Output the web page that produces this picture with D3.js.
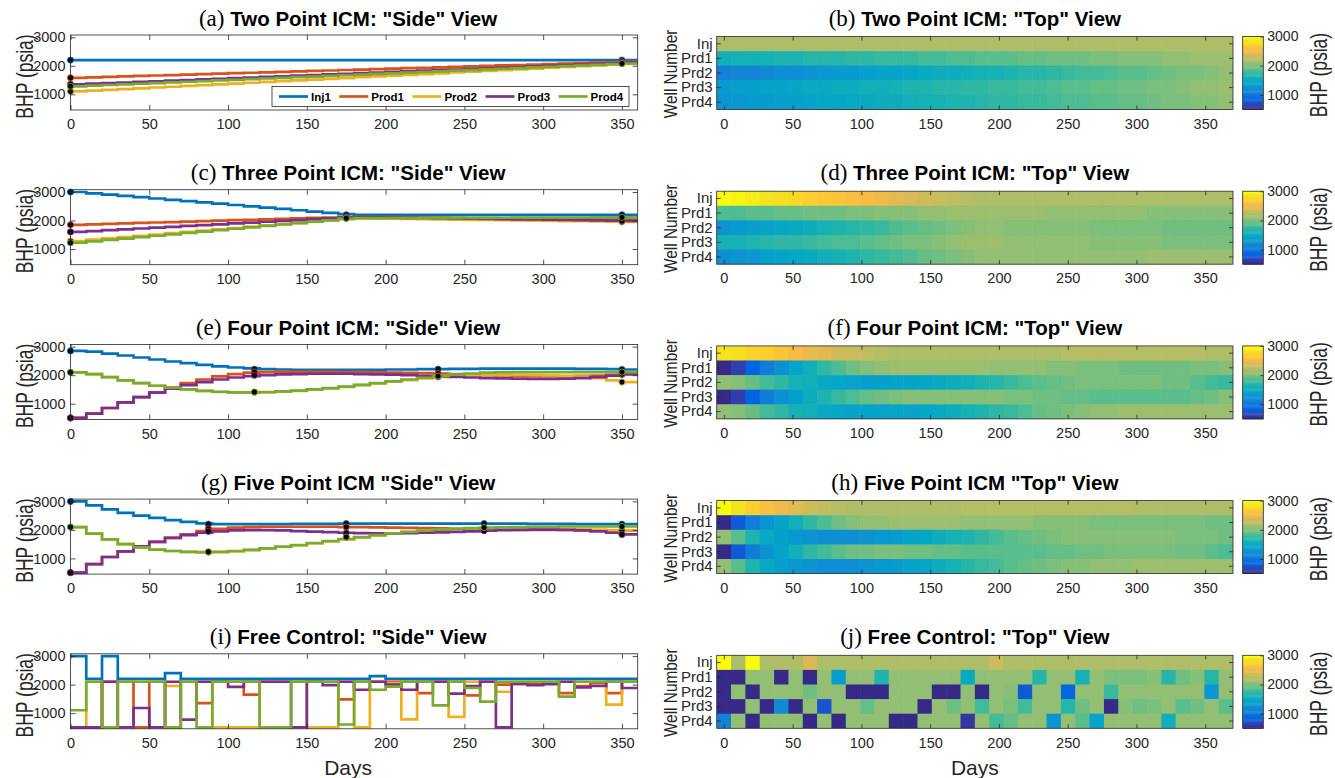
<!DOCTYPE html>
<html>
<head>
<meta charset="utf-8">
<script src="https://cdn.jsdelivr.net/npm/d3@7"></script>
<style>
  body { margin: 0; background: #fff; }
  svg { display: block; }
</style>
</head>
<body>
<svg id="fig" width="1335" height="778"></svg>
<script>
// ---------------------------------------------------------------------------
// Data
// ---------------------------------------------------------------------------
const wells = ["Inj1", "Prod1", "Prod2", "Prod3", "Prod4"];
const rowLabels = ["Inj", "Prd1", "Prd2", "Prd3", "Prd4"];
const wellColors = ["#0072BD", "#D95319", "#EDB120", "#7E2F8E", "#77AC30"];

// start day of each 10-day control step
const stepStart = [0, 10, 20, 30, 40, 50, 60, 70, 80, 90, 100, 110, 120, 130, 140, 150, 160, 170,
                   180, 190, 200, 210, 220, 230, 240, 250, 260, 270, 280, 290, 300, 310, 320, 330, 340, 350];
const dayTicks = [0, 50, 100, 150, 200, 250, 300, 350];
const bhpTicks = [1000, 2000, 3000];

// control-point days of the interpolated control methods
const ctrlTwoPoint = [0, 350];
const ctrlThreePoint = [0, 175, 350];
const ctrlFourPoint = [0, 116.7, 233.3, 350];
const ctrlFivePoint = [0, 87.5, 175, 262.5, 350];

// BHP (psia) per step, rows: Inj1, Prod1, Prod2, Prod3, Prod4
const bhpTwoPoint = [
  [2200,2200,2200,2200,2200,2200,2200,2200,2200,2200,2200,2200,2200,2200,2200,2200,2200,2200,2200,2200,2200,2200,2200,2200,2200,2200,2200,2200,2200,2200,2200,2200,2200,2200,2200,2200],
  [1580,1596,1612,1628,1644,1660,1676,1692,1708,1724,1740,1756,1772,1788,1804,1820,1836,1852,1868,1884,1900,1916,1932,1948,1964,1980,1996,2012,2028,2044,2060,2076,2092,2108,2124,2140],
  [1100,1128,1155,1183,1211,1239,1266,1294,1322,1349,1377,1405,1433,1460,1488,1516,1543,1571,1599,1627,1654,1682,1710,1737,1765,1793,1821,1848,1876,1904,1931,1959,1987,2015,2042,2070],
  [1350,1372,1393,1415,1437,1459,1481,1502,1524,1546,1567,1589,1611,1633,1654,1676,1698,1719,1741,1763,1784,1806,1828,1850,1871,1893,1914,1936,1958,1980,2001,2023,2045,2066,2088,2110],
  [1280,1303,1326,1349,1371,1394,1417,1440,1463,1486,1509,1531,1554,1577,1600,1623,1646,1669,1691,1714,1737,1760,1783,1806,1829,1851,1874,1897,1920,1943,1966,1989,2011,2034,2057,2080]
];

const bhpThreePoint = [
  [3000,2954,2909,2863,2817,2771,2726,2680,2634,2589,2543,2497,2451,2406,2360,2314,2269,2223,2200,2200,2200,2200,2200,2200,2200,2200,2200,2200,2200,2200,2200,2200,2200,2200,2200,2200],
  [1850,1866,1882,1898,1914,1930,1946,1962,1978,1994,2010,2026,2042,2058,2074,2090,2106,2122,2127,2121,2116,2110,2104,2099,2093,2087,2081,2076,2070,2064,2059,2053,2047,2041,2036,2030],
  [1280,1326,1371,1417,1463,1509,1554,1600,1646,1691,1737,1783,1829,1874,1920,1966,2011,2057,2076,2069,2061,2054,2047,2039,2032,2024,2017,2010,2002,1995,1987,1980,1973,1965,1958,1950],
  [1600,1630,1659,1689,1719,1749,1778,1808,1838,1867,1897,1927,1957,1986,2016,2046,2075,2105,2116,2109,2101,2094,2087,2079,2072,2064,2057,2050,2042,2035,2027,2020,2013,2005,1998,1990],
  [1220,1269,1318,1367,1417,1466,1515,1564,1613,1662,1711,1761,1810,1859,1908,1957,2006,2055,2081,2083,2085,2087,2088,2090,2092,2094,2095,2097,2099,2101,2102,2104,2106,2107,2109,2110]
];

const bhpFourPoint = [
  [2850,2830,2760,2690,2620,2550,2480,2420,2360,2310,2270,2240,2210,2200,2190,2190,2190,2190,2190,2190,2200,2200,2210,2210,2220,2220,2230,2230,2230,2230,2230,2230,2220,2220,2210,2200],
  [500,650,850,1050,1230,1400,1570,1720,1850,1960,2040,2090,2110,2120,2120,2120,2120,2110,2110,2100,2090,2080,2070,2060,2040,2020,2000,1990,1980,1970,1970,1970,1980,1990,2010,2030],
  [2100,2040,1930,1820,1720,1630,1560,1500,1450,1410,1390,1390,1400,1420,1450,1490,1540,1590,1650,1710,1770,1830,1890,1940,1980,2000,2010,2010,2010,2000,1990,1970,1950,1900,1820,1760],
  [500,650,850,1050,1230,1390,1530,1650,1760,1850,1920,1970,2000,2030,2040,2050,2050,2050,2040,2030,2020,2000,1980,1960,1940,1920,1900,1890,1880,1870,1870,1880,1900,1930,1980,2040],
  [2100,2040,1930,1820,1720,1630,1560,1500,1450,1420,1400,1400,1410,1430,1460,1500,1550,1600,1660,1720,1780,1850,1910,1970,2020,2060,2090,2100,2110,2110,2110,2110,2110,2110,2110,2110]
];

const bhpFivePoint = [
  [3000,2860,2720,2600,2500,2420,2340,2280,2230,2200,2200,2200,2200,2200,2210,2210,2210,2220,2220,2220,2220,2220,2220,2220,2220,2220,2220,2220,2220,2210,2210,2210,2200,2200,2200,2200],
  [500,800,1050,1250,1420,1580,1720,1840,1960,2040,2080,2100,2110,2110,2110,2110,2110,2100,2100,2090,2080,2070,2060,2050,2040,2030,2020,2010,2000,2000,2000,2000,1990,1990,1980,1970],
  [2100,1870,1670,1500,1390,1310,1260,1230,1210,1220,1250,1290,1340,1400,1460,1530,1600,1670,1740,1810,1870,1920,1960,2000,2030,2050,2060,2060,2060,2050,2040,2030,2020,2000,1990,1980],
  [500,800,1050,1250,1420,1580,1720,1820,1900,1950,1980,1990,1990,1980,1960,1940,1920,1900,1890,1880,1880,1890,1900,1910,1930,1950,1970,1990,2000,2010,2010,2000,1980,1950,1900,1840],
  [2100,1870,1670,1500,1390,1310,1260,1230,1220,1230,1260,1300,1350,1410,1470,1540,1610,1680,1750,1820,1880,1930,1970,2010,2040,2060,2080,2090,2100,2110,2110,2120,2120,2120,2120,2120]
];

const bhpFreeControl = [
  [3000,2200,3000,2200,2200,2200,2400,2200,2200,2200,2200,2200,2200,2200,2200,2200,2200,2200,2200,2300,2200,2200,2200,2200,2200,2200,2200,2200,2200,2200,2200,2200,2200,2200,2200,2200],
  [500,500,2100,2100,500,2100,500,2100,1350,2100,2100,1650,2100,2100,2100,2100,2100,1480,2100,2100,2100,2100,1700,2100,2100,1620,2100,2000,2020,2020,2030,1700,1950,2050,1700,2100],
  [500,2100,500,2100,2100,2100,1950,2100,2100,500,500,500,2100,2100,2100,500,500,2100,500,2100,2050,780,2100,2100,870,2100,2100,1750,2100,2100,2100,2100,2100,2100,1300,2100],
  [500,500,2100,500,1180,500,2100,770,2100,2100,1920,2100,2100,2100,500,2100,1980,2100,1820,2100,2000,1820,2100,2100,1680,1950,2100,500,2030,1980,2020,2100,1900,1950,2100,1880],
  [1100,2100,500,2100,2100,2100,500,2100,500,2100,2100,2100,500,500,2100,2100,2100,600,2100,1820,1930,2100,2100,1270,2100,1880,1400,2100,2100,2100,2100,1580,2100,2100,2100,2100]
];

const panels = [
  { key: "a", tag: "(a)", sideTitle: 'Two Point ICM: "Side" View',   topTag: "(b)", topTitle: 'Two Point ICM: "Top" View',   data: bhpTwoPoint,    ctrl: ctrlTwoPoint,   legend: true },
  { key: "c", tag: "(c)", sideTitle: 'Three Point ICM: "Side" View', topTag: "(d)", topTitle: 'Three Point ICM: "Top" View', data: bhpThreePoint,  ctrl: ctrlThreePoint },
  { key: "e", tag: "(e)", sideTitle: 'Four Point ICM: "Side" View',  topTag: "(f)", topTitle: 'Four Point ICM: "Top" View',  data: bhpFourPoint,   ctrl: ctrlFourPoint },
  { key: "g", tag: "(g)", sideTitle: 'Five Point ICM "Side" View',   topTag: "(h)", topTitle: 'Five Point ICM "Top" View',   data: bhpFivePoint,   ctrl: ctrlFivePoint },
  { key: "i", tag: "(i)", sideTitle: 'Free Control: "Side" View',    topTag: "(j)", topTitle: 'Free Control: "Top" View',    data: bhpFreeControl, ctrl: null }
];

// ---------------------------------------------------------------------------
// Parula colour map (MATLAB default), 64 discrete levels
// ---------------------------------------------------------------------------
const parulaStops = [
  [0.2081,0.1663,0.5292],[0.1959,0.2645,0.7279],[0.0117,0.3875,0.8820],[0.0498,0.4586,0.8641],
  [0.0793,0.5200,0.8312],[0.0343,0.5966,0.8199],[0.0228,0.6535,0.7768],[0.0843,0.6928,0.7062],
  [0.2178,0.7250,0.6193],[0.3953,0.7459,0.5244],[0.5709,0.7485,0.4494],[0.7184,0.7411,0.3905],
  [0.8507,0.7299,0.3360],[0.9739,0.7314,0.2666],[0.9880,0.8066,0.1794],[0.9589,0.8949,0.1132],
  [0.9763,0.9831,0.0538]
];
const parulaPos = parulaStops.map((_, i) => Math.min(1, i * 4 / 63));
const parulaInterp = d3.scaleLinear()
  .domain(parulaPos)
  .range(parulaStops.map(c => d3.rgb(c[0] * 255, c[1] * 255, c[2] * 255)))
  .interpolate(d3.interpolateRgb)
  .clamp(true);
const cbarDomain = [500, 3000];
function parulaLevel(j) { return parulaInterp(j / 63); }
function parula(v) {
  const t = (v - cbarDomain[0]) / (cbarDomain[1] - cbarDomain[0]);
  const j = Math.max(0, Math.min(63, Math.floor(t * 64)));
  return parulaLevel(j);
}

// ---------------------------------------------------------------------------
// Layout
// ---------------------------------------------------------------------------
const SANS = "'Liberation Sans', Arial, Helvetica, sans-serif";
const SERIF = "'Liberation Serif', 'Times New Roman', serif";
const TXT = "#262626";
const AX = "#262626";
const intFmt = d3.format("d");

const sideX0 = 70.5, sideX1 = 637.7, sideH = 75, sideTop0 = 35;
const mapX0 = 716.7, mapX1 = 1233, mapH = 73, mapTop0 = 36.5;
const cbX0 = 1242.7, cbX1 = 1263.3;
const rowStep = 154.7;

const dayDomain = [0, 360];
const bhpDomain = [450, 3080];
const cellDays = 365 / 35;
const mapDomain = [-cellDays / 2, 365 + cellDays / 2];

const svg = d3.select("#fig");

function styleAxis(sel, size) {
  sel.attr("font-family", SANS).attr("font-size", size).attr("color", TXT);
  sel.select(".domain").remove();
  sel.selectAll(".tick line").attr("stroke", AX).attr("stroke-width", 0.8);
  return sel;
}

function frame(g, x0, x1, y0, y1) {
  g.append("rect")
    .attr("x", x0).attr("y", y0).attr("width", x1 - x0).attr("height", y1 - y0)
    .attr("fill", "none").attr("stroke", AX).attr("stroke-width", 0.8);
}

function title(cx, yBase, tag, text) {
  const t = svg.append("text")
    .attr("x", cx).attr("y", yBase)
    .attr("text-anchor", "middle").attr("fill", "#000");
  t.append("tspan").attr("font-family", SERIF).attr("font-size", 23).text(tag + " ");
  t.append("tspan").attr("font-family", SANS).attr("font-weight", "bold").attr("font-size", 20.5).text(text);
}

// rotated axis title, squeezed along its reading direction
function vLabel(x, cy, text, size, squeeze) {
  svg.append("text")
    .attr("transform", `translate(${x},${cy}) rotate(-90) scale(${squeeze},1)`)
    .attr("text-anchor", "middle")
    .attr("font-family", SANS).attr("font-size", size).attr("fill", TXT)
    .text(text);
}

// ---------------------------------------------------------------------------
// "Side" view: step lines of BHP against days
// ---------------------------------------------------------------------------
function drawSide(p, k) {
  const top = sideTop0 + k * rowStep;
  const bottom = top + sideH;
  const x = d3.scaleLinear().domain(dayDomain).range([sideX0, sideX1]);
  const y = d3.scaleLinear().domain(bhpDomain).range([bottom, top]);
  const g = svg.append("g");

  const cid = "clip-side-" + p.key;
  g.append("clipPath").attr("id", cid).append("rect")
    .attr("x", sideX0).attr("y", top).attr("width", sideX1 - sideX0).attr("height", sideH);

  const line = d3.line().x(d => x(d[0])).y(d => y(d[1])).curve(d3.curveStepAfter);
  const plot = g.append("g").attr("clip-path", `url(#${cid})`);
  p.data.forEach((series, w) => {
    const pts = stepStart.map((t, i) => [t, series[i]]);
    pts.push([dayDomain[1], series[series.length - 1]]);
    plot.append("path")
      .attr("d", line(pts))
      .attr("fill", "none")
      .attr("stroke", wellColors[w])
      .attr("stroke-width", 2.7);
  });

  // control-point markers
  if (p.ctrl) {
    const dots = g.append("g");
    p.data.forEach((series, w) => {
      p.ctrl.forEach(t => {
        const i = Math.min(series.length - 1, Math.round(t / 10));
        dots.append("circle")
          .attr("cx", x(t)).attr("cy", y(series[i])).attr("r", 3.1)
          .attr("fill", "#000").attr("stroke", wellColors[w]).attr("stroke-width", 0.9);
      });
    });
  }

  // axes
  styleAxis(g.append("g").attr("transform", `translate(0,${bottom})`)
    .call(d3.axisBottom(x).tickValues(dayTicks).tickFormat(intFmt).tickSizeInner(-5).tickSizeOuter(0).tickPadding(9)), 14.5);
  styleAxis(g.append("g").attr("transform", `translate(0,${top})`)
    .call(d3.axisTop(x).tickValues(dayTicks).tickSizeInner(-5).tickSizeOuter(0).tickFormat("")), 14);
  styleAxis(g.append("g").attr("transform", `translate(${sideX0},0)`)
    .call(d3.axisLeft(y).tickValues(bhpTicks).tickFormat(intFmt).tickSizeInner(-5).tickSizeOuter(0).tickPadding(5)), 14.5);
  styleAxis(g.append("g").attr("transform", `translate(${sideX1},0)`)
    .call(d3.axisRight(y).tickValues(bhpTicks).tickSizeInner(-5).tickSizeOuter(0).tickFormat("")), 14);
  frame(g, sideX0, sideX1, top, bottom);

  // legend
  if (p.legend) {
    const lgW = 357, lgH = 20;
    const lgX = sideX1 - 8.7 - lgW, lgY = bottom - 3.5 - lgH;
    const lg = g.append("g");
    lg.append("rect").attr("x", lgX).attr("y", lgY).attr("width", lgW).attr("height", lgH)
      .attr("fill", "#fff").attr("stroke", AX).attr("stroke-width", 0.8);
    let cx = lgX + 7;
    wells.forEach((name, w) => {
      const cy = lgY + lgH / 2;
      lg.append("line").attr("x1", cx).attr("x2", cx + 29).attr("y1", cy).attr("y2", cy)
        .attr("stroke", wellColors[w]).attr("stroke-width", 2.7);
      const t = lg.append("text").attr("x", cx + 32).attr("y", cy + 4.2)
        .attr("font-family", SANS).attr("font-weight", "bold").attr("font-size", 11.5)
        .attr("fill", "#000").text(name);
      cx += 32 + t.node().getComputedTextLength() + 8.5;
    });
  }

  title((sideX0 + sideX1) / 2 - 6, top - 9.5, p.tag, p.sideTitle);
  vLabel(33, top + sideH / 2 + 4, "BHP (psia)", 24, 0.73);
}

// ---------------------------------------------------------------------------
// "Top" view: heat map of well against days, plus colour bar
// ---------------------------------------------------------------------------
function drawMap(p, k) {
  const top = mapTop0 + k * rowStep;
  const bottom = top + mapH;
  const x = d3.scaleLinear().domain(mapDomain).range([mapX0, mapX1]);
  const y = d3.scaleBand().domain(rowLabels).range([top, bottom]);
  const cellCentre = d3.scaleLinear().domain([0, stepStart.length - 1]).range([0, 365]);
  const g = svg.append("g");

  const cid = "clip-map-" + p.key;
  g.append("clipPath").attr("id", cid).append("rect")
    .attr("x", mapX0).attr("y", top).attr("width", mapX1 - mapX0).attr("height", mapH);
  const cells = g.append("g").attr("clip-path", `url(#${cid})`);
  p.data.forEach((series, w) => {
    series.forEach((v, i) => {
      const c = cellCentre(i);
      const xa = x(c - cellDays / 2), xb = x(c + cellDays / 2);
      cells.append("rect")
        .attr("x", xa).attr("y", y(rowLabels[w]))
        .attr("width", xb - xa + 0.6).attr("height", y.bandwidth() + 0.6)
        .attr("fill", parula(v));
    });
  });

  styleAxis(g.append("g").attr("transform", `translate(0,${bottom})`)
    .call(d3.axisBottom(x).tickValues(dayTicks).tickFormat(intFmt).tickSizeInner(-4).tickSizeOuter(0).tickPadding(9)), 14.5);
  styleAxis(g.append("g").attr("transform", `translate(0,${top})`)
    .call(d3.axisTop(x).tickValues(dayTicks).tickSizeInner(-4).tickSizeOuter(0).tickFormat("")), 14);
  styleAxis(g.append("g").attr("transform", `translate(${mapX0},0)`)
    .call(d3.axisLeft(y).tickSizeInner(-4).tickSizeOuter(0).tickPadding(4)), 15);
  styleAxis(g.append("g").attr("transform", `translate(${mapX1},0)`)
    .call(d3.axisRight(y).tickSizeInner(-4).tickSizeOuter(0).tickFormat("")), 14);
  frame(g, mapX0, mapX1, top, bottom);

  // colour bar
  const cy = d3.scaleLinear().domain(cbarDomain).range([bottom, top]);
  const levels = d3.range(64);
  const step = (cbarDomain[1] - cbarDomain[0]) / 64;
  g.append("g").selectAll("rect").data(levels).join("rect")
    .attr("x", cbX0).attr("width", cbX1 - cbX0)
    .attr("y", j => cy(cbarDomain[0] + (j + 1) * step))
    .attr("height", j => cy(cbarDomain[0] + j * step) - cy(cbarDomain[0] + (j + 1) * step) + 0.4)
    .attr("fill", j => parulaLevel(j));
  styleAxis(g.append("g").attr("transform", `translate(${cbX1},0)`)
    .call(d3.axisRight(cy).tickValues(bhpTicks).tickFormat(intFmt).tickSizeInner(-3).tickSizeOuter(0).tickPadding(4)), 14);
  frame(g, cbX0, cbX1, top, bottom);

  title((mapX0 + mapX1) / 2, top - 11, p.topTag, p.topTitle);
  vLabel(677, top + mapH / 2 + 1, "Well Number", 17.5, 0.88);
  vLabel(1327, top + mapH / 2 + 2, "BHP (psia)", 24, 0.73);
}

panels.forEach((p, k) => {
  drawSide(p, k);
  drawMap(p, k);
});

// shared x-axis titles under the bottom row
[[(sideX0 + sideX1) / 2 - 6, "Days"], [(mapX0 + mapX1) / 2, "Days"]].forEach(([cx, t]) => {
  svg.append("text").attr("x", cx).attr("y", 775)
    .attr("text-anchor", "middle").attr("font-family", SANS).attr("font-size", 21)
    .attr("fill", TXT).text(t);
});
</script>
</body>
</html>
